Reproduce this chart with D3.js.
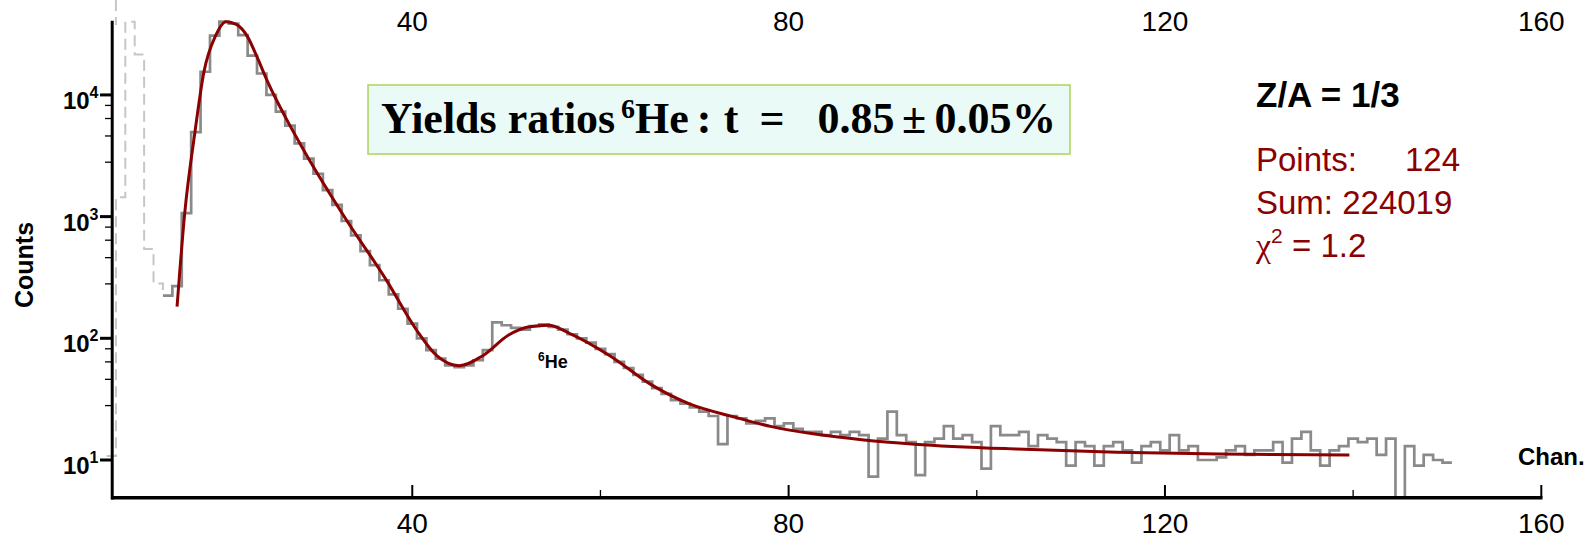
<!DOCTYPE html>
<html>
<head>
<meta charset="utf-8">
<script src="https://cdn.jsdelivr.net/npm/d3@7"></script>
<style>
  html, body { margin: 0; padding: 0; background: #fff; }
  svg { display: block; }
</style>
</head>
<body>
<svg id="chart" width="1593" height="540"></svg>
<script>
// ---- data -----------------------------------------------------------
// low channels (drawn dashed, outside the fitted range)
const preChannels = [8, 9, 10, 11, 12, 13];
const preCounts   = [10.8, 1440, 40000, 21500, 541, 282];
// edge of the gate: short dashed marker above the frame
const gateChannel = 8.5;

// measured spectrum, one value per channel starting at channel 14
const firstChannel = 14;
const counts = [
  224, 268, 1070, 4940, 15500, 30700, 40000, 38500, 31000, 21000,   // 14-23
  15000, 10000, 7300, 5600, 4000, 3000, 2250, 1650, 1250, 920,      // 24-33
  700, 520, 400, 300, 230, 175, 132, 100, 80, 68,                   // 34-43
  60, 58, 60, 66, 80, 135, 128, 122, 118, 126,                      // 44-53
  130, 124, 118, 108, 100, 92, 82, 74, 64, 57,                      // 54-63
  50, 44, 39, 35, 31, 29, 27, 25, 23, 13.5,                         // 64-73
  23, 22, 20, 21, 22, 19, 20, 18, 17, 17,                           // 74-83
  16, 17, 16, 17, 16, 7.3, 15, 25, 16, 14,                          // 84-93
  7.5, 14, 15, 19, 15, 16, 14, 8.5, 19, 16,                         // 94-103
  16, 17, 13, 16, 15, 14, 9, 14, 13, 9,                             // 104-113
  13, 14, 12, 9.5, 13, 14, 12, 16, 12, 13,                          // 114-123
  10, 10, 10.5, 12, 13, 11, 12, 12, 14, 9.5,                        // 124-133
  15, 17, 12, 9, 12, 13, 15, 14, 15, 11,                            // 134-143
  15, 4.9, 13, 9, 11, 10, 9.5                                       // 144-150
];

// fitted curve
const fitChannels = [15.0, 15.8, 16.9, 17.85, 19.1, 20.2, 21.3, 22.5, 23.5, 24.5, 25.5, 26.5,
  28.6, 32.9, 37.2, 40.45, 42.6, 45, 47.5, 50.2, 52.3, 54.5, 56.7, 61, 65.3, 69.6, 74, 78.2,
  82.6, 88, 93.4, 104.2, 114.9, 125.8, 139.6];
const fitCounts = [182, 1040, 4950, 15400, 30700, 40000, 38000, 30000, 20500, 13500, 9300, 6600,
  3370, 966, 305, 117, 72, 59.6, 72, 106, 124, 128, 110, 72, 42, 28.6, 22.8, 18.8,
  16.4, 14.6, 13.5, 12.3, 11.6, 11.2, 11.0];

const xTicksMajor = [40, 80, 120, 160];
const xTicksMinor = [60, 100, 140];
const yTicksMajor = [10, 100, 1000, 10000];
const yMinorFactors = [2.8, 4.6, 6.4, 8.2];

// ---- scales ---------------------------------------------------------
const x = d3.scaleLinear().domain([8, 160]).range([111.2, 1541.3]);
const y = d3.scaleLog().domain([4.9, 40500]).range([497.7, 21]);

const svg = d3.select("#chart");
const FONT = "'Liberation Sans', Arial, Helvetica, sans-serif";
const SERIF = "'Liberation Serif', 'Times New Roman', serif";
const fitColor = "#8b0000";

// step outline of a histogram: each bin spans channel ± 0.5
function steps(chs, vals) {
  const pts = [];
  chs.forEach((c, i) => { pts.push([c - 0.5, vals[i]]); pts.push([c + 0.5, vals[i]]); });
  return pts;
}
const line = d3.line().x(d => x(d[0])).y(d => y(d[1]));

// ---- data marks -----------------------------------------------------
const chs = counts.map((_, i) => firstChannel + i);
const prePts = steps(preChannels, preCounts);
prePts.push([firstChannel - 0.5, counts[0]]);
const dashStyle = sel => sel.attr("fill", "none").attr("stroke", "#c6c6c6")
  .attr("stroke-width", 2).attr("stroke-dasharray", "11,6");
svg.append("path").attr("d", line(prePts)).call(dashStyle);
svg.append("line").attr("x1", x(gateChannel)).attr("x2", x(gateChannel))
  .attr("y1", 0).attr("y2", 25).call(dashStyle);

svg.append("path").attr("d", line(steps(chs, counts)))
  .attr("fill", "none").attr("stroke", "#8a8a8a").attr("stroke-width", 2.7)
  .attr("stroke-linejoin", "miter");

svg.append("path")
  .attr("d", d3.line().x(d => x(d[0])).y(d => y(d[1])).curve(d3.curveMonotoneX)(fitChannels.map((c, i) => [c, fitCounts[i]])))
  .attr("fill", "none").attr("stroke", fitColor).attr("stroke-width", 3);

// ---- axes -----------------------------------------------------------
const ax = svg.append("g").attr("stroke", "#000");
ax.append("line").attr("x1", x(8) + 1).attr("x2", x(8) + 1).attr("y1", 20.7).attr("y2", 499.5).attr("stroke-width", 3);
ax.append("line").attr("x1", x(8)).attr("x2", x(160) + 1.2).attr("y1", 497.7).attr("y2", 497.7).attr("stroke-width", 3.5);

xTicksMajor.forEach(t => ax.append("line").attr("x1", x(t)).attr("x2", x(t))
  .attr("y1", 497.7).attr("y2", 485).attr("stroke-width", 2));
xTicksMinor.forEach(t => ax.append("line").attr("x1", x(t)).attr("x2", x(t))
  .attr("y1", 497.7).attr("y2", 490).attr("stroke-width", 1.3));

yTicksMajor.forEach(t => ax.append("line").attr("x1", 100).attr("x2", x(8) + 1)
  .attr("y1", y(t)).attr("y2", y(t)).attr("stroke-width", 3));
yTicksMajor.slice(0, 3).forEach(t => yMinorFactors.forEach(f =>
  ax.append("line").attr("x1", 105).attr("x2", x(8) + 1)
    .attr("y1", y(t * f)).attr("y2", y(t * f)).attr("stroke-width", 1.3)));

// x tick labels, bottom and top
xTicksMajor.forEach(t => {
  [533, 31].forEach(by => svg.append("text").attr("x", x(t)).attr("y", by)
    .attr("text-anchor", "middle").attr("font-family", FONT).attr("font-size", 28)
    .attr("fill", "#000").text(t));
});

// y tick labels 10^n
yTicksMajor.forEach(t => {
  const e = Math.round(Math.log10(t));
  const g = svg.append("text").attr("x", 98.5).attr("y", y(t) + 14)
    .attr("text-anchor", "end").attr("font-family", FONT).attr("font-weight", "bold")
    .attr("font-size", 24).attr("fill", "#000");
  g.append("tspan").text("10");
  g.append("tspan").attr("dy", -11).attr("font-size", 16).text(e);
});

svg.append("text").attr("transform", "translate(33,265) rotate(-90)")
  .attr("text-anchor", "middle").attr("font-family", FONT).attr("font-weight", "bold")
  .attr("font-size", 25).text("Counts");

svg.append("text").attr("x", 1518).attr("y", 465).attr("font-family", FONT)
  .attr("font-weight", "bold").attr("font-size", 24).text("Chan.");

// ---- annotations ----------------------------------------------------
svg.append("rect").attr("x", 368).attr("y", 85).attr("width", 702).attr("height", 69)
  .attr("fill", "#eafaf7").attr("stroke", "#a9d55a").attr("stroke-width", 1.5);
const ratio = svg.append("text").attr("y", 133).attr("font-family", SERIF)
  .attr("font-weight", "bold").attr("font-size", 44).attr("fill", "#000");
[["Yields ratios", 381, "start"], [":", 704, "middle"], ["t", 731, "middle"],
 ["=", 772, "middle"], ["0.85", 856, "middle"], ["±", 914, "middle"],
 ["0.05", 973, "middle"], ["%", 1034, "middle"]].forEach(([s, px, anchor]) =>
  ratio.append("tspan").attr("x", px).attr("text-anchor", anchor).text(s));
const iso = svg.append("text").attr("x", 621).attr("y", 133).attr("font-family", SERIF)
  .attr("font-weight", "bold").attr("font-size", 44).attr("fill", "#000");
iso.append("tspan").attr("dy", -15).attr("font-size", 28).text("6");
iso.append("tspan").attr("dy", 15).text("He");

svg.append("text").attr("x", 1256).attr("y", 107).attr("font-family", FONT)
  .attr("font-weight", "bold").attr("font-size", 35).attr("fill", "#000").text("Z/A = 1/3");

const red = svg.append("g").attr("font-family", FONT).attr("font-size", 33).attr("fill", fitColor);
red.append("text").attr("x", 1256).attr("y", 171).text("Points:");
red.append("text").attr("x", 1460).attr("y", 171).attr("text-anchor", "end").text("124");
red.append("text").attr("x", 1256).attr("y", 214).text("Sum: 224019");
const chi = red.append("text").attr("x", 1256).attr("y", 257);
chi.append("tspan").attr("font-family", SERIF).attr("font-size", 34).text("χ");
chi.append("tspan").attr("dy", -14).attr("font-size", 21).text("2");
chi.append("tspan").attr("dy", 14).text(" = 1.2");

const he = svg.append("text").attr("x", 538).attr("y", 368).attr("font-family", FONT)
  .attr("font-weight", "bold").attr("font-size", 18).attr("fill", "#000");
he.append("tspan").attr("dy", -7).attr("font-size", 12).text("6");
he.append("tspan").attr("dy", 7).text("He");
</script>
</body>
</html>
